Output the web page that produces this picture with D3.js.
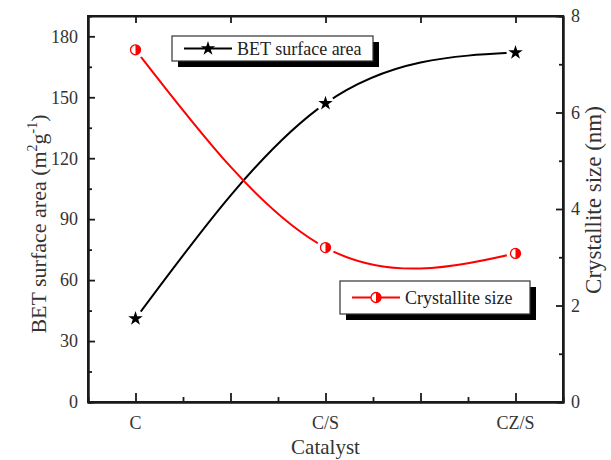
<!DOCTYPE html>
<html>
<head>
<meta charset="utf-8">
<script src="https://cdn.jsdelivr.net/npm/d3@7"></script>
<style>
  body { margin: 0; background: #fff; }
  svg { font-family: "Liberation Serif", "Times New Roman", serif; }
</style>
</head>
<body>
<div id="chart"></div>
<script>
const categories = ["C", "C/S", "CZ/S"];
const betArea = [41, 147, 172];
const crystalSize = [7.3, 3.2, 3.08];
const leftTicks = [0, 30, 60, 90, 120, 150, 180];
const rightTicks = [0, 2, 4, 6, 8];

const width = 611, height = 460;
const frame = { left: 88, right: 563, top: 16, bottom: 402 };

const svg = d3.select("#chart").append("svg")
	.attr("width", width)
	.attr("height", height);

const x = d3.scaleLinear().domain([0.75, 3.25]).range([frame.left, frame.right]);
const yL = d3.scaleLinear().domain([0, 190]).range([frame.bottom, frame.top]);
const yR = d3.scaleLinear().domain([0, 8]).range([frame.bottom, frame.top]);

const ink = "#1a1a1a";
const textColor = "#333";

const xMajor = [1, 1.5, 2, 2.5, 3];
const xMinor = [1.25, 1.75, 2.25, 2.75];

function styleAxis(g) {
	g.select(".domain").attr("stroke", ink).attr("stroke-width", 2);
	g.selectAll(".tick line").attr("stroke", ink).attr("stroke-width", 1.8);
}

// bottom axis
svg.append("g").attr("transform", `translate(0,${frame.bottom})`)
	.call(d3.axisTop(x).tickValues(xMinor).tickSize(5).tickFormat(""))
	.call(styleAxis);
svg.append("g").attr("transform", `translate(0,${frame.bottom})`)
	.call(d3.axisTop(x).tickValues(xMajor).tickSize(9).tickSizeOuter(0).tickFormat(""))
	.call(styleAxis);
svg.append("g").attr("transform", `translate(0,${frame.bottom})`)
	.selectAll("text").data(categories).join("text")
	.attr("x", (d, i) => x(i + 1))
	.attr("y", 27)
	.attr("text-anchor", "middle")
	.attr("fill", textColor)
	.style("font-size", "18px")
	.text(d => d);

// top ticks
svg.append("g").attr("transform", `translate(0,${frame.top})`)
	.call(d3.axisBottom(x).tickValues(xMajor).tickSize(7).tickSizeOuter(0).tickFormat(""))
	.call(styleAxis);

// left axis
svg.append("g").attr("transform", `translate(${frame.left},0)`)
	.call(d3.axisRight(yL).tickValues(d3.range(15, 190, 30)).tickSize(4).tickFormat(""))
	.call(styleAxis);
svg.append("g").attr("transform", `translate(${frame.left},0)`)
	.call(d3.axisRight(yL).tickValues(leftTicks).tickSize(7).tickSizeOuter(0).tickFormat(""))
	.call(styleAxis);
svg.append("g").attr("transform", `translate(${frame.left},0)`)
	.selectAll("text").data(leftTicks).join("text")
	.attr("x", -10)
	.attr("y", d => yL(d))
	.attr("dy", "0.35em")
	.attr("text-anchor", "end")
	.attr("fill", textColor)
	.style("font-size", "18px")
	.text(d => d);

// right axis
svg.append("g").attr("transform", `translate(${frame.right},0)`)
	.call(d3.axisLeft(yR).tickValues([1, 3, 5, 7]).tickSize(4).tickFormat(""))
	.call(styleAxis);
svg.append("g").attr("transform", `translate(${frame.right},0)`)
	.call(d3.axisLeft(yR).tickValues(rightTicks).tickSize(7).tickSizeOuter(0).tickFormat(""))
	.call(styleAxis);
svg.append("g").attr("transform", `translate(${frame.right},0)`)
	.selectAll("text").data(rightTicks).join("text")
	.attr("x", 8)
	.attr("y", d => yR(d))
	.attr("dy", "0.35em")
	.attr("fill", textColor)
	.style("font-size", "18px")
	.text(d => d);

// frame
svg.append("rect")
	.attr("x", frame.left).attr("y", frame.top)
	.attr("width", frame.right - frame.left)
	.attr("height", frame.bottom - frame.top)
	.attr("fill", "none").attr("stroke", ink).attr("stroke-width", 2);

// axis titles
svg.append("text")
	.attr("x", x(2)).attr("y", 454)
	.attr("text-anchor", "middle")
	.attr("fill", textColor)
	.style("font-size", "21px")
	.text("Catalyst");

const lt = svg.append("text")
	.attr("transform", `translate(46,224) rotate(-90)`)
	.attr("text-anchor", "middle")
	.attr("fill", textColor)
	.style("font-size", "22px");
lt.append("tspan").text("BET surface area (m");
lt.append("tspan").attr("dy", -9).style("font-size", "14px").text("2");
lt.append("tspan").attr("dy", 9).text("g");
lt.append("tspan").attr("dy", -9).style("font-size", "14px").text("-1");
lt.append("tspan").attr("dy", 9).text(")");

svg.append("text")
	.attr("transform", `translate(601,200) rotate(-90)`)
	.attr("text-anchor", "middle")
	.attr("fill", textColor)
	.style("font-size", "23px")
	.text("Crystallite size (nm)");

// curves
const betPts = betArea.map((v, i) => [x(i + 1), yL(v)]);
const crysPts = crystalSize.map((v, i) => [x(i + 1), yR(v)]);
const line = d3.line().curve(d3.curveNatural);

svg.append("path").attr("d", line(betPts))
	.attr("fill", "none").attr("stroke", "#000").attr("stroke-width", 2);
svg.append("path").attr("d", line(crysPts))
	.attr("fill", "none").attr("stroke", "#ff0000").attr("stroke-width", 2);

const star = d3.symbol().type(d3.symbolStar).size(65);

function starMark(g, cx, cy) {
	g.append("path").attr("d", star()).attr("transform", `translate(${cx},${cy})`).attr("fill", "#000");
}

function halfMark(g, cx, cy) {
	const r = 5;
	g.append("circle").attr("cx", cx).attr("cy", cy).attr("r", r).attr("fill", "#fff");
	g.append("path")
		.attr("d", `M${cx},${cy - r} A${r},${r} 0 0 1 ${cx},${cy + r} Z`)
		.attr("fill", "#ff0000");
	g.append("circle").attr("cx", cx).attr("cy", cy).attr("r", r)
		.attr("fill", "none").attr("stroke", "#ff0000").attr("stroke-width", 1.3);
}

// white gap around each marker, as in the original
const marks = svg.append("g");
betPts.concat(crysPts).forEach(p =>
	marks.append("circle").attr("cx", p[0]).attr("cy", p[1]).attr("r", 9).attr("fill", "#fff"));
betPts.forEach(p => starMark(marks, p[0], p[1]));
crysPts.forEach(p => halfMark(marks, p[0], p[1]));

// legends
function legend(bx, by, bw, bh, label, color, marker) {
	const g = svg.append("g");
	g.append("rect").attr("x", bx + 6).attr("y", by + 6).attr("width", bw).attr("height", bh).attr("fill", "#000");
	g.append("rect").attr("x", bx).attr("y", by).attr("width", bw).attr("height", bh)
		.attr("fill", "#fff").attr("stroke", "#333").attr("stroke-width", 1.2);
	const cy = by + bh / 2;
	g.append("line").attr("x1", bx + 12).attr("x2", bx + 60).attr("y1", cy).attr("y2", cy)
		.attr("stroke", color).attr("stroke-width", 2);
	marker(g, bx + 36, cy);
	g.append("text").attr("x", bx + 65).attr("y", cy).attr("dy", "0.35em")
		.attr("fill", "#222").style("font-size", "18px").text(label);
}

legend(172, 36, 201, 25, "BET surface area", "#000", starMark);
legend(340, 281, 190, 33, "Crystallite size", "#ff0000", halfMark);
</script>
</body>
</html>
